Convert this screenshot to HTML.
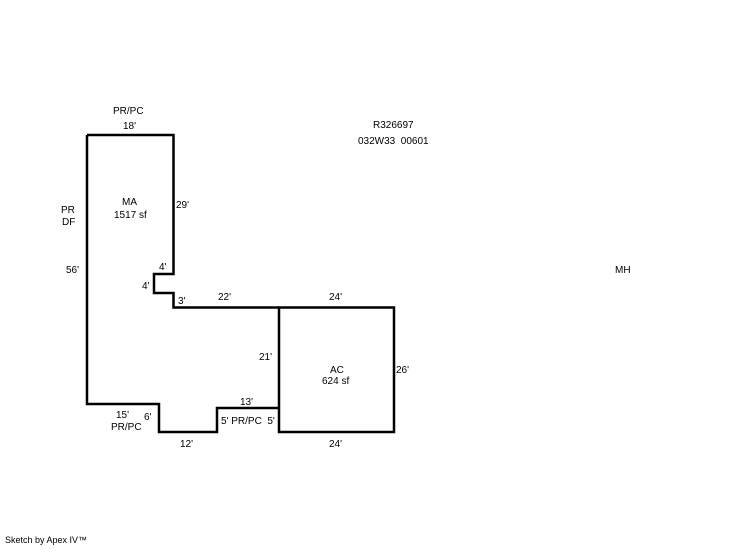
<!DOCTYPE html>
<html><head><style>
html,body{margin:0;padding:0;background:#fff;}
svg text{font-family:"Liberation Sans",Arial,sans-serif;font-size:10px;fill:#000;}
</style></head><body>
<svg width="746" height="547" viewBox="0 0 746 547" xmlns="http://www.w3.org/2000/svg">
<g fill="none" stroke="#000" stroke-width="2.5" stroke-linejoin="miter">
<polyline points="87,135 173.5,135 173.5,274 154,274 154,293 173.5,293 173.5,307.5 279,307.5"/>
<polyline points="87,135 87,404 159,404 159,432 217,432 217,408 279,408"/>
<rect x="279" y="307.5" width="115" height="124.5"/>
</g>
<text x="113" y="114">PR/PC</text>
<text x="123" y="129">18'</text>
<text x="373" y="128">R326697</text>
<text x="358" y="144">032W33&#160; 00601</text>
<text x="122" y="205">MA</text>
<text x="114" y="218">1517 sf</text>
<text x="176" y="208">29'</text>
<text x="61" y="213">PR</text>
<text x="62" y="225">DF</text>
<text x="66" y="273">56'</text>
<text x="159" y="270">4'</text>
<text x="142" y="289">4'</text>
<text x="178" y="304">3'</text>
<text x="218" y="300">22'</text>
<text x="329" y="300">24'</text>
<text x="615" y="273">MH</text>
<text x="259" y="360">21'</text>
<text x="330" y="373">AC</text>
<text x="322" y="384">624 sf</text>
<text x="396" y="373">26'</text>
<text x="240" y="405">13'</text>
<text x="116" y="418">15'</text>
<text x="144" y="420">6'</text>
<text x="111" y="430">PR/PC</text>
<text x="221" y="424">5' PR/PC&#160; 5'</text>
<text x="180" y="447">12'</text>
<text x="329" y="447">24'</text>
<text x="5" y="543" style="font-size:9px">Sketch by Apex IV™</text>
</svg>
</body></html>
